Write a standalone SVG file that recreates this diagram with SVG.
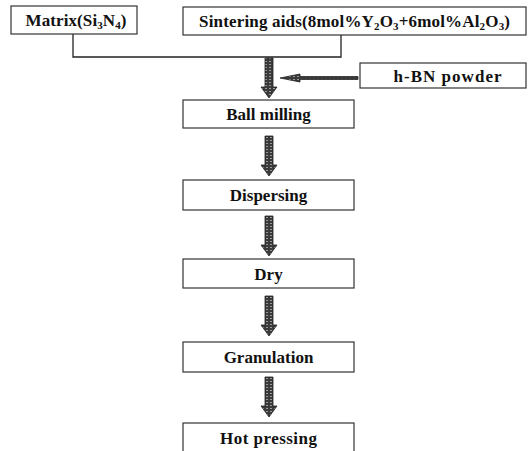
<svg xmlns="http://www.w3.org/2000/svg" width="530" height="451" viewBox="0 0 530 451">
<defs>
<style>
.box{fill:#fff;stroke:#333;stroke-width:1.2}
.t{font-family:"Liberation Serif","Times New Roman",serif;font-weight:bold;font-size:17px;fill:#111;text-anchor:middle}
.sub{font-size:11px}
.line{fill:none;stroke:#222;stroke-width:1.3}
.arr{fill:url(#hatch);stroke:#222;stroke-width:0.8}
</style>
<pattern id="hatch" width="4" height="3" patternUnits="userSpaceOnUse">
<rect width="4" height="3" fill="#3a3a3a"/>
<rect x="1" y="1" width="2" height="1" fill="#9a9a9a"/>
</pattern>
<path id="down" d="M-4 0 H4 V29 H8 L0 40 L-8 29 H-4 Z"/>
</defs>
<rect width="530" height="451" fill="#fff"/>
<g id="connectors">
<path class="line" d="M73 34 V57 H341 V35"/>
<path class="arr" d="M265 58 H273 V87 H277 L269 98 L261 87 H265 Z"/>
<path class="arr" d="M358 76.5 V79.5 H300 V82 L280 78 L300 74 V76.5 Z"/>
<use href="#down" class="arr" x="269" y="136"/>
<use href="#down" class="arr" x="269" y="216"/>
<use href="#down" class="arr" x="269" y="296"/>
<use href="#down" class="arr" x="269" y="377"/>
</g>
<g id="matrix">
<rect class="box" x="11" y="6" width="126" height="28"/>
<text class="t" x="76" y="26" textLength="101" lengthAdjust="spacing">Matrix(Si<tspan class="sub" dy="3">3</tspan><tspan dy="-3">N</tspan><tspan class="sub" dy="3">4</tspan><tspan dy="-3">)</tspan></text>
</g>
<g id="sintering">
<rect class="box" x="183" y="7" width="343" height="28"/>
<text class="t" x="354.5" y="27" textLength="311" lengthAdjust="spacing">Sintering  aids(8mol%Y<tspan class="sub" dy="3">2</tspan><tspan dy="-3">O</tspan><tspan class="sub" dy="3">3</tspan><tspan dy="-3">+6mol%Al</tspan><tspan class="sub" dy="3">2</tspan><tspan dy="-3">O</tspan><tspan class="sub" dy="3">3</tspan><tspan dy="-3">)</tspan></text>
</g>
<g id="hbn">
<rect class="box" x="360" y="63" width="166" height="25"/>
<text class="t" x="447.5" y="82" textLength="108" lengthAdjust="spacing">h-BN powder</text>
</g>
<g id="ballmilling">
<rect class="box" x="183" y="100" width="171" height="28"/>
<text class="t" x="268.5" y="120">Ball milling</text>
</g>
<g id="dispersing">
<rect class="box" x="183" y="180" width="171" height="30"/>
<text class="t" x="268.5" y="201">Dispersing</text>
</g>
<g id="dry">
<rect class="box" x="183" y="259" width="171" height="29"/>
<text class="t" x="268.5" y="280">Dry</text>
</g>
<g id="granulation">
<rect class="box" x="183" y="342" width="171" height="30"/>
<text class="t" x="268.5" y="363">Granulation</text>
</g>
<g id="hotpressing">
<rect class="box" x="183" y="423" width="171" height="32"/>
<text class="t" x="268.5" y="444" textLength="97" lengthAdjust="spacing">Hot pressing</text>
</g>
</svg>
